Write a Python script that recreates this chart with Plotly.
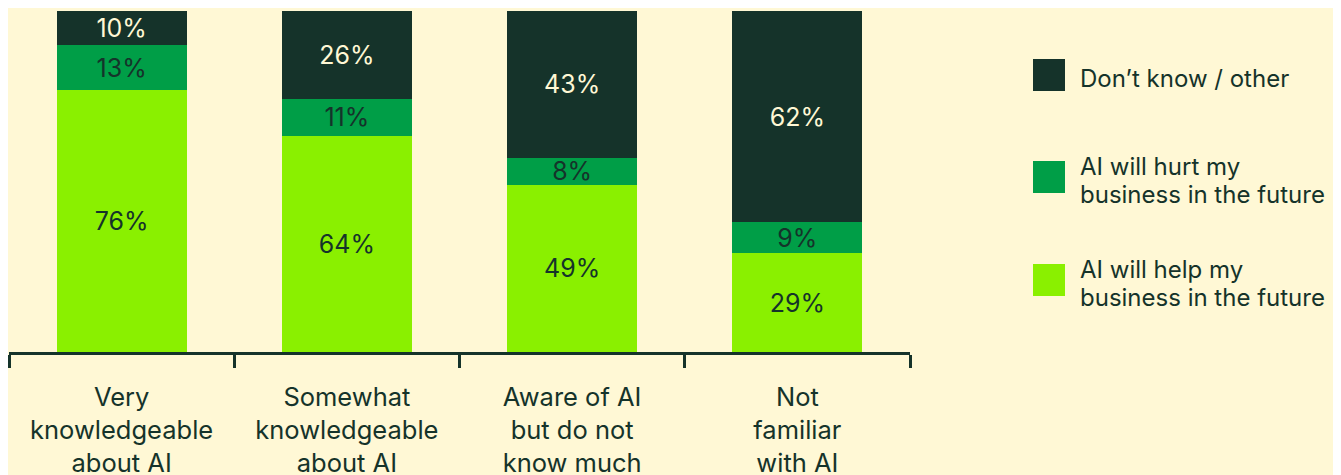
import plotly.graph_objects as go

categories = ["Very<br>knowledgeable<br>about AI", "Somewhat<br>knowledgeable<br>about AI",
              "Aware of AI<br>but do not<br>know much", "Not<br>familiar<br>with AI"]
help_vals = [76, 64, 49, 29]
hurt_vals = [13, 11, 8, 9]
dontknow_vals = [10, 26, 43, 62]

legend_lines = [["Don\u2019t know / other"],
                ["AI will hurt my", "business in the future"],
                ["AI will help my", "business in the future"]]

bg = "#FFF8D5"
dark = "#15332A"
mid = "#009E47"
light = "#8AF000"
font_fam = "Inter, Roboto, sans-serif"

# page body has an 8px margin, so the figure starts at (8, 8)
OFF = 8
W, H = 1341 - OFF, 475 - OFF
x0, x1 = 9 - OFF, 910 - OFF      # plot area in figure px
y0, y1 = 11 - OFF, 352 - OFF


def px_x(p):
    return (p - OFF - x0) / (x1 - x0)


def px_y(p):
    return (y1 - (p - OFF)) / (y1 - y0)


fig = go.Figure()
series = [(help_vals, light, dark), (hurt_vals, mid, dark), (dontknow_vals, dark, bg)]
for vals, col, tcol in series:
    fig.add_trace(go.Bar(
        x=categories, y=vals, marker_color=col, marker_line_width=0,
        text=[f"{v}%" for v in vals], textposition="inside", insidetextanchor="middle",
        textfont=dict(color=tcol, size=25, family=font_fam), showlegend=False,
        hoverinfo="skip"))

fig.update_layout(
    barmode="stack", barnorm="percent", bargap=0.422,
    width=W, height=H, paper_bgcolor=bg, plot_bgcolor=bg,
    margin=dict(l=x0, r=W - x1, t=y0, b=H - y1, pad=0, autoexpand=False),
    uniformtext=dict(minsize=25, mode="show"),
    font=dict(family=font_fam, color=dark),
)
fig.update_yaxes(range=[0, 100], visible=False, fixedrange=True, automargin=False)
fig.update_xaxes(showline=True, linecolor=dark, linewidth=3, tickson="boundaries",
                 ticks="outside", ticklen=13, tickwidth=3, tickcolor=dark,
                 tickfont=dict(size=25.5, color=dark, family=font_fam), showgrid=False,
                 ticklabelstandoff=20, automargin=False)

# custom legend with large swatches
sw_tops = [59, 161, 264]
line_centers = [[77], [165, 193], [268, 296]]
cols = [dark, mid, light]
for top, centers, col, lines in zip(sw_tops, line_centers, cols, legend_lines):
    fig.add_shape(type="rect", xref="paper", yref="paper",
                  x0=px_x(1033), x1=px_x(1065), y0=px_y(top + 32), y1=px_y(top),
                  fillcolor=col, line_width=0)
    for cy, line in zip(centers, lines):
        fig.add_annotation(xref="paper", yref="paper", x=px_x(1078), y=px_y(cy + 1),
                           xanchor="left", yanchor="middle", align="left", showarrow=False,
                           text=line, font=dict(size=24, color=dark, family=font_fam))

fig.write_html("out.html")
